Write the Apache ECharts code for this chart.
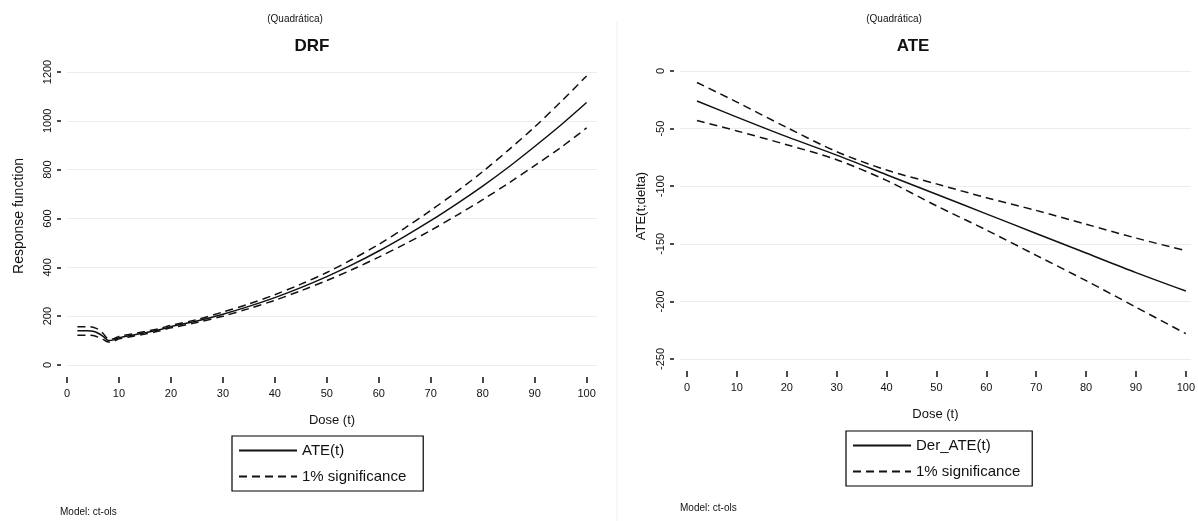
<!DOCTYPE html>
<html>
<head>
<meta charset="utf-8">
<title>DRF / ATE</title>
<script src="https://cdn.jsdelivr.net/npm/echarts@6/dist/echarts.min.js"></script>
<style>
html, body { margin: 0; padding: 0; background: #fff; }
#chart { width: 1198px; height: 521px; }
</style>
</head>
<body>
<div id="chart"></div>
<script>
// left panel: dose response function
var drfDose  = [2, 4, 5, 6, 7, 8, 9, 10, 12.5, 15, 17.5, 20, 25, 30, 35, 40, 45, 50, 55, 60, 65, 70, 75, 80, 85, 90, 95, 100];
var drfEst   = [140, 140, 138, 130, 116, 100, 103, 112, 122, 132, 143, 157, 180, 208, 240, 276, 317, 362, 412, 467, 527, 591, 660, 733, 811, 895, 982, 1075];
var drfUpper = [157, 157, 155, 146, 128, 106, 108, 117, 127, 137, 148, 162, 186, 217, 250, 288, 331, 379, 434, 494, 561, 633, 710, 792, 881, 975, 1077, 1184];
var drfLower = [122, 122, 121, 114, 104, 94, 98, 107, 117, 127, 138, 152, 174, 200, 231, 265, 304, 346, 392, 442, 495, 551, 613, 677, 745, 817, 890, 971];

// right panel: derivative (ATE)
var ateDose  = [2, 10, 20, 30, 40, 50, 60, 70, 80, 90, 100];
var ateEst   = [-26, -40, -57, -73, -90, -107, -124, -141, -158, -175, -191];
var ateUpper = [-10, -27, -49, -70, -86, -98, -110, -121, -133, -145, -156];
var ateLower = [-43, -52, -64, -77, -95, -117, -138, -160, -182, -205, -228];

var doseTicks = [0, 10, 20, 30, 40, 50, 60, 70, 80, 90, 100];

function pairs(xs, ys) {
  return xs.map(function (x, i) { return [x, ys[i]]; });
}

var font = "'Liberation Sans Narrow', 'Liberation Sans', Arial, sans-serif";
var sans = "'Liberation Sans', Arial, sans-serif";
var ink = '#111';

function xAxisFor(idx, min, max) {
  return {
    type: 'value', gridIndex: idx, position: 'bottom', min: min, max: max, offset: 12,
    axisLine: { show: false, onZero: false },
    axisTick: { show: true, inside: false, length: 6, customValues: doseTicks, lineStyle: { color: ink, width: 1.5 } },
    axisLabel: { customValues: doseTicks, margin: 11, fontSize: 11, color: ink, fontFamily: font },
    splitLine: { show: false },
    name: 'Dose (t)', nameLocation: 'middle', nameGap: 37,
    nameTextStyle: { fontSize: 13, color: ink, fontFamily: font }
  };
}

function yAxisFor(idx, min, max, step) {
  return {
    type: 'value', gridIndex: idx, position: 'left', min: min, max: max, interval: step, offset: 6,
    axisLine: { show: false, onZero: false },
    axisTick: { show: true, length: 4, lineStyle: { color: ink, width: 1.5 } },
    axisLabel: {
      rotate: 90, margin: 8, fontSize: 11, color: ink, fontFamily: font,
      formatter: function (v) { return String(v); }
    },
    splitLine: { show: true, lineStyle: { color: '#ececec', width: 1 } }
  };
}

function line(name, idx, data, dashed) {
  return {
    name: name, type: 'line', xAxisIndex: idx, yAxisIndex: idx,
    data: data, symbol: 'none', smooth: 0.3,
    lineStyle: { color: ink, width: 1.5, type: dashed ? [8, 5] : 'solid' },
    itemStyle: { color: ink },
    emphasis: { disabled: true }, silent: true
  };
}

var legendBase = {
  orient: 'vertical', borderColor: '#000', borderWidth: 1.2,
  itemWidth: 58, itemHeight: 14, itemGap: 11,
  selectedMode: false,
  itemStyle: { opacity: 0 },
  textStyle: { fontSize: 15, color: ink, fontFamily: sans }
};

var chart = echarts.init(document.getElementById('chart'));
chart.setOption({
  backgroundColor: '#fff',
  animation: false,
  grid: [
    { left: 67, top: 72, width: 530, height: 293 },
    { left: 680, top: 71, width: 518, height: 288 }
  ],
  xAxis: [xAxisFor(0, 0, 102), xAxisFor(1, -1.4, 101)],
  yAxis: [yAxisFor(0, 0, 1200, 200), yAxisFor(1, -250, 0, 50)],
  legend: [
    Object.assign({ left: 232, top: 436, padding: [7, 17, 7, 6], data: ['ATE(t)', '1% significance'] }, legendBase),
    Object.assign({ left: 846, top: 431, padding: [7, 12, 7, 6], data: ['Der_ATE(t)', '1% significance'] }, legendBase)
  ],
  graphic: [
    { type: 'line', shape: { x1: 617, y1: 22, x2: 617, y2: 521 }, style: { stroke: '#efefef', lineWidth: 1 }, silent: true },
    { type: 'text', x: 295, y: 19, style: { text: '(Quadrática)', fontSize: 10, fill: ink, align: 'center', verticalAlign: 'middle', fontFamily: sans } },
    { type: 'text', x: 312, y: 46, style: { text: 'DRF', fontSize: 17, fontWeight: 'bold', fill: ink, align: 'center', verticalAlign: 'middle', fontFamily: sans } },
    { type: 'text', x: 894, y: 19, style: { text: '(Quadrática)', fontSize: 10, fill: ink, align: 'center', verticalAlign: 'middle', fontFamily: sans } },
    { type: 'text', x: 913, y: 46, style: { text: 'ATE', fontSize: 17, fontWeight: 'bold', fill: ink, align: 'center', verticalAlign: 'middle', fontFamily: sans } },
    { type: 'text', x: 19, y: 216, rotation: Math.PI / 2, style: { text: 'Response function', fontSize: 14, fill: ink, align: 'center', verticalAlign: 'middle', fontFamily: sans } },
    { type: 'text', x: 641, y: 206, rotation: Math.PI / 2, style: { text: 'ATE(t;delta)', fontSize: 13, fill: ink, align: 'center', verticalAlign: 'middle', fontFamily: sans } },
    { type: 'text', x: 60, y: 512, style: { text: 'Model: ct-ols', fontSize: 10, fill: ink, verticalAlign: 'middle', fontFamily: font } },
    { type: 'text', x: 680, y: 508, style: { text: 'Model: ct-ols', fontSize: 10, fill: ink, verticalAlign: 'middle', fontFamily: font } }
  ],
  series: [
    line('ATE(t)', 0, pairs(drfDose, drfEst), false),
    line('1% significance', 0, pairs(drfDose, drfUpper), true),
    line('1% significance', 0, pairs(drfDose, drfLower), true),
    line('Der_ATE(t)', 1, pairs(ateDose, ateEst), false),
    line('1% significance', 1, pairs(ateDose, ateUpper), true),
    line('1% significance', 1, pairs(ateDose, ateLower), true)
  ]
});
</script>
</body>
</html>
